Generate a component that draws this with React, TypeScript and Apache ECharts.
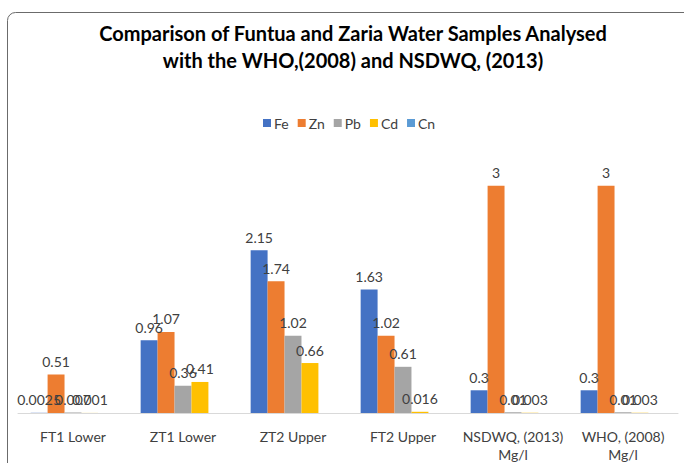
import React, { useEffect, useRef } from "react";
import * as echarts from "echarts";

const categories = ["FT1 Lower", "ZT1 Lower", "ZT2 Upper", "FT2 Upper", "NSDWQ, (2013)\nMg/l", "WHO, (2008)\nMg/l"];
const seriesNames = ["Fe", "Zn", "Pb", "Cd", "Cn"];
const fe = [0.0025, 0.96, 2.15, 1.63, 0.3, 0.3];
const zn = [0.51, 1.07, 1.74, 1.02, 3, 3];
const pb = [0.007, 0.36, 1.02, 0.61, 0.01, 0.01];
const cd = [0.001, 0.41, 0.66, 0.016, 0.003, 0.003];
const cn: (number | null)[] = [null, null, null, null, null, null];
const colors = ["#4472C4", "#ED7D31", "#A5A5A5", "#FFC000", "#5B9BD5"];

const FONT = "Lato, 'Open Sans', sans-serif";

export default function App() {
  const ref = useRef<HTMLDivElement>(null);
  useEffect(() => {
    if (!ref.current) return;
    const chart = echarts.init(ref.current, undefined, { renderer: "svg" });
    const data = [fe, zn, pb, cd, cn];
    chart.setOption({
      animation: false,
      backgroundColor: "#ffffff",
      textStyle: { fontFamily: FONT },
      title: {
        text: "Comparison of Funtua and Zaria Water Samples Analysed\nwith the WHO,(2008) and NSDWQ, (2013)",
        left: 348,
        textAlign: "center",
        top: 14,
        textStyle: { fontFamily: FONT, fontWeight: "bold", fontSize: 20, color: "#000000", lineHeight: 27 },
      },
      graphic: [
        {
          type: "rect",
          shape: { x: 7.5, y: 12.5, width: 720, height: 520, r: 8 },
          style: { fill: "none", stroke: "#6b6b6b", lineWidth: 1 },
          silent: true,
        },
      ],
      legend: {
        data: seriesNames,
        top: 111,
        left: 258,
        itemWidth: 8,
        itemHeight: 8,
        itemGap: 9,
        icon: "rect",
        textStyle: { fontFamily: FONT, fontSize: 14, color: "#404040", padding: [0, 0, 0, -2] },
      },
      grid: { left: 18, right: 6, top: 148, bottom: 45, containLabel: false },
      xAxis: {
        type: "category",
        data: categories,
        axisLine: { lineStyle: { color: "#d9d9d9" } },
        axisTick: { show: false },
        axisLabel: { fontFamily: FONT, fontSize: 14, color: "#404040", margin: 14, lineHeight: 18, interval: 0 },
      },
      yAxis: {
        type: "value",
        min: 0,
        max: 3.5,
        show: false,
      },
      series: seriesNames.map((name, i) => ({
        name,
        type: "bar",
        data: data[i],
        barGap: "0%",
        barCategoryGap: "23%",
        itemStyle: { color: colors[i] },
        label: {
          show: true,
          position: "top",
          distance: 6,
          fontFamily: FONT,
          fontSize: 14,
          color: "#404040",
          formatter: (p: any) => (p.value == null ? "" : String(p.value)),
        },
      })),
    });
    return () => chart.dispose();
  }, []);
  return <div ref={ref} style={{ width: 684, height: 463, position: "absolute", left: 0, top: 0 }} />;
}
